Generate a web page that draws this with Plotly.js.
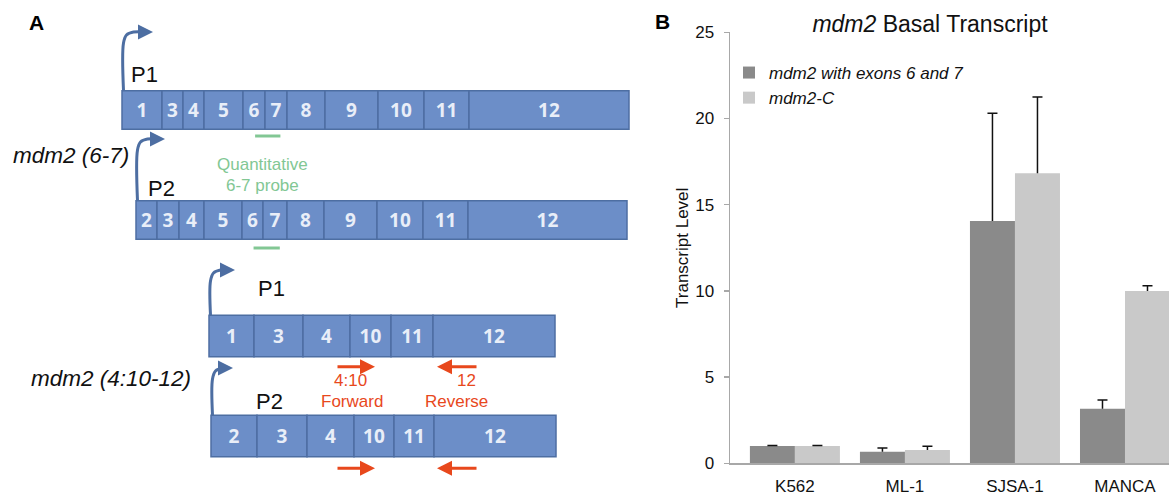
<!DOCTYPE html>
<html>
<head>
<meta charset="utf-8">
<script src="https://cdn.plot.ly/plotly-3.0.1.min.js"></script>
<style>html,body{margin:0;padding:0;background:#fff;}#chart{width:1169px;height:499px;}</style>
</head>
<body>
<div id="chart"></div>
<script>
// ---------- Panel B data ----------
const categories = ['K562', 'ML-1', 'SJSA-1', 'MANCA'];
const exons67 = [1.0, 0.67, 14.05, 3.17];
const exons67Err = [0.03, 0.22, 6.25, 0.5];
const mdm2C = [1.0, 0.77, 16.82, 10.0];
const mdm2CErr = [0.03, 0.22, 4.43, 0.3];
const yTicks = [0, 5, 10, 15, 20, 25];
const seriesNames = ['mdm2 with exons 6 and 7', 'mdm2-C'];

// ---------- Panel A diagram data (exon labels and drawn widths) ----------
const row1Exons = ['1', '3', '4', '5', '6', '7', '8', '9', '10', '11', '12'];
const row1Widths = [40, 21, 21, 39, 22, 22, 38, 53, 46, 45, 160];
const row2Exons = ['2', '3', '4', '5', '6', '7', '8', '9', '10', '11', '12'];
const row2Widths = [21, 22, 25, 38, 21, 24, 37, 53, 46, 45, 159];
const row3Exons = ['1', '3', '4', '10', '11', '12'];
const row3Widths = [45, 49, 47, 41, 42, 122];
const row4Exons = ['2', '3', '4', '10', '11', '12'];
const row4Widths = [46, 50, 47, 40, 40, 122];
const promoterLabels = ['P1', 'P2', 'P1', 'P2'];

// ---------- Panel A layout (pixel space of the diagram axes) ----------
const rowStart = [122, 136, 209, 211];
const rowCenter = [110, 220, 336, 436];
const rowHeight = [38.6, 38.3, 41.7, 41.7];
const arrowTip = [[153, 32], [165, 139], [235, 270], [233, 368]];
const promoterLabelPos = [[144.5, 74], [161.5, 188], [271.5, 288], [269.5, 401.7]];

const FONT = 'Liberation Sans, Arial, sans-serif';
const BLUE = '#6c8ec8';
const BLUE_DARK = '#4d6ea2';
const GREEN = '#82c794';
const RED = '#e8481c';

const rows = [
  [row1Exons, row1Widths],
  [row2Exons, row2Widths],
  [row3Exons, row3Widths],
  [row4Exons, row4Widths]
];

const exY = [], exX = [], exBase = [], exText = [], exWidth = [];
const exonStarts = [];
rows.forEach(([labels, widths], r) => {
  let pos = rowStart[r];
  const starts = [];
  labels.forEach((lab, i) => {
    exY.push(rowCenter[r]);
    exX.push(widths[i]);
    exBase.push(pos);
    exText.push(lab);
    exWidth.push(rowHeight[r]);
    starts.push(pos);
    pos += widths[i];
  });
  exonStarts.push(starts);
});

const traces = [];

// Exon boxes
traces.push({
  type: 'bar', orientation: 'h', xaxis: 'x2', yaxis: 'y2',
  y: exY, x: exX, base: exBase, width: exWidth, text: exText,
  textposition: 'inside', insidetextanchor: 'middle', textangle: 0, constraintext: 'none',
  textfont: {family: 'Open Sans, Noto Sans, sans-serif', size: 19, weight: 'bold', color: '#e9eef8'},
  marker: {color: BLUE, line: {color: BLUE_DARK, width: 1.5}},
  showlegend: false, hoverinfo: 'skip'
});

// Promoter bent arrows
const annotations = [];
rows.forEach((_, r) => {
  const sx = rowStart[r] + 1.5;
  const top = rowCenter[r] - rowHeight[r] / 2;
  const [tx, ty] = arrowTip[r];
  traces.push({
    type: 'scatter', mode: 'lines', xaxis: 'x2', yaxis: 'y2',
    x: [sx, sx, sx + 3, sx + 10, tx - 7],
    y: [top, ty + 11, ty + 3, ty, ty],
    line: {color: BLUE_DARK, width: 3, shape: 'spline', smoothing: 1},
    showlegend: false, hoverinfo: 'skip'
  });
  annotations.push({
    xref: 'x2', yref: 'y2', axref: 'x2', ayref: 'y2',
    x: tx, y: ty, ax: tx - 9, ay: ty, text: '', showarrow: true,
    arrowhead: 2, arrowsize: 1, arrowwidth: 3, arrowcolor: BLUE_DARK
  });
  annotations.push({
    xref: 'x2', yref: 'y2', x: promoterLabelPos[r][0], y: promoterLabelPos[r][1],
    text: promoterLabels[r], showarrow: false, xanchor: 'center', yanchor: 'middle',
    font: {family: FONT, size: 22, color: '#111'}
  });
});

// Quantitative 6-7 probe (spans exon 6 mid to exon 7 mid)
[[0, 136], [1, 248]].forEach(([r, yy]) => {
  const i6 = rows[r][0].indexOf('6'), i7 = rows[r][0].indexOf('7');
  const s6 = exonStarts[r][i6], s7 = exonStarts[r][i7];
  traces.push({
    type: 'scatter', mode: 'lines', xaxis: 'x2', yaxis: 'y2',
    x: [s6 + rows[r][1][i6] * 0.55, s7 + rows[r][1][i7] * 0.7], y: [yy, yy],
    line: {color: GREEN, width: 3}, showlegend: false, hoverinfo: 'skip'
  });
});

// Primer arrows
const primerY = [366.7, 468.3];
primerY.forEach(yy => {
  annotations.push({xref: 'x2', yref: 'y2', axref: 'x2', ayref: 'y2', x: 375, y: yy, ax: 336, ay: yy,
    text: '', showarrow: true, arrowhead: 2, arrowsize: 1, arrowwidth: 3, arrowcolor: RED});
  annotations.push({xref: 'x2', yref: 'y2', axref: 'x2', ayref: 'y2', x: 437, y: yy, ax: 478, ay: yy,
    text: '', showarrow: true, arrowhead: 2, arrowsize: 1, arrowwidth: 3, arrowcolor: RED});
});

// Panel A text
const txt = (x, y, text, size, color, opts) => Object.assign({
  xref: 'x2', yref: 'y2', x: x, y: y, text: text, showarrow: false,
  xanchor: 'center', yanchor: 'middle', font: {family: FONT, size: size, color: color}
}, opts || {});
annotations.push(txt(131, 155, '<i>mdm2 (6-7)</i>', 22.5, '#111', {xanchor: 'right'}));
annotations.push(txt(193, 378, '<i>mdm2 (4:10-12)</i>', 22.5, '#111', {xanchor: 'right'}));
annotations.push(txt(262, 164, 'Quantitative', 17, GREEN));
annotations.push(txt(262, 185, '6-7 probe', 17, GREEN));
annotations.push(txt(350, 380.7, '4:10', 17, RED));
annotations.push(txt(351.7, 401.7, 'Forward', 17, RED));
annotations.push(txt(466, 380.7, '12', 17, RED));
annotations.push(txt(456.7, 401.7, 'Reverse', 17, RED));
annotations.push({xref: 'paper', yref: 'paper', x: 36.5 / 1169, y: 1 - 22 / 499, text: '<b>A</b>', showarrow: false,
  xanchor: 'center', yanchor: 'middle', font: {family: FONT, size: 21, color: '#000'}});
annotations.push({xref: 'paper', yref: 'paper', x: 662.5 / 1169, y: 1 - 21 / 499, text: '<b>B</b>', showarrow: false,
  xanchor: 'center', yanchor: 'middle', font: {family: FONT, size: 21, color: '#000'}});

// ---------- Panel B bars ----------
// Visible bars carry the upward error line (no caps); an overlaid transparent bar in the
// same offset group carries only the top cap.
function seriesTraces(vals, errs, name, color, group) {
  return [
    {
      type: 'bar', x: categories, y: vals, name: '<i>' + name + '</i>', offsetgroup: group,
      marker: {color: color},
      error_y: {type: 'data', symmetric: false, array: errs, arrayminus: vals.map(() => 0),
        color: '#111', thickness: 1.5, width: 0},
      hoverinfo: 'skip'
    },
    {
      type: 'bar', x: categories, y: vals, offsetgroup: group, showlegend: false,
      marker: {color: 'rgba(0,0,0,0)'},
      error_y: {type: 'data', symmetric: false, array: errs, arrayminus: errs.map(e => -e),
        color: '#111', thickness: 1.5, width: 5},
      hoverinfo: 'skip'
    }
  ];
}
traces.push(...seriesTraces(exons67, exons67Err, seriesNames[0], '#8a8a8a', 'g1'));
traces.push(...seriesTraces(mdm2C, mdm2CErr, seriesNames[1], '#c9c9c9', 'g2'));

const layout = {
  width: 1169, height: 499,
  margin: {l: 0, r: 0, t: 0, b: 0},
  paper_bgcolor: '#ffffff', plot_bgcolor: 'rgba(0,0,0,0)',
  font: {family: FONT, color: '#111'},
  barmode: 'group', bargap: 0.182, bargroupgap: 0,
  showlegend: true,
  legend: {x: 729 / 1169, xanchor: 'left', y: 1 - 55 / 499, yanchor: 'top',
    font: {family: FONT, size: 17, color: '#111'}, bgcolor: 'rgba(0,0,0,0)', itemwidth: 30, tracegroupgap: 0},
  title: {text: '<i>mdm2</i> Basal Transcript', x: 930 / 1169, xanchor: 'center', y: 1 - 24 / 499, yanchor: 'middle',
    font: {family: FONT, size: 23, color: '#111'}},
  xaxis: {domain: [730 / 1169, 1], range: [-0.59, 3.4], type: 'category', showline: true, linecolor: '#a8a8a8',
    linewidth: 1.5, ticks: '', tickfont: {family: FONT, size: 17, color: '#111'}, ticklabelstandoff: 7,
    showgrid: false, zeroline: false, fixedrange: true},
  yaxis: {domain: [(499 - 463.3) / 499, (499 - 32.3) / 499], range: [0, 25], tickvals: yTicks,
    showline: true, linecolor: '#a8a8a8', linewidth: 1.5, ticks: 'outside', ticklen: 5, tickcolor: '#a8a8a8',
    tickwidth: 1.5, tickfont: {family: FONT, size: 17, color: '#111'}, ticklabelstandoff: 6,
    showgrid: false, zeroline: false, fixedrange: true,
    title: {text: 'Transcript Level', font: {family: FONT, size: 17, color: '#111'}, standoff: 2}},
  xaxis2: {domain: [0, 640 / 1169], range: [0, 640], anchor: 'y2', visible: false, fixedrange: true},
  yaxis2: {domain: [0, 1], range: [499, 0], anchor: 'x2', visible: false, fixedrange: true},
  annotations: annotations
};

Plotly.newPlot('chart', traces, layout, {displayModeBar: false, staticPlot: true});
</script>
</body>
</html>
